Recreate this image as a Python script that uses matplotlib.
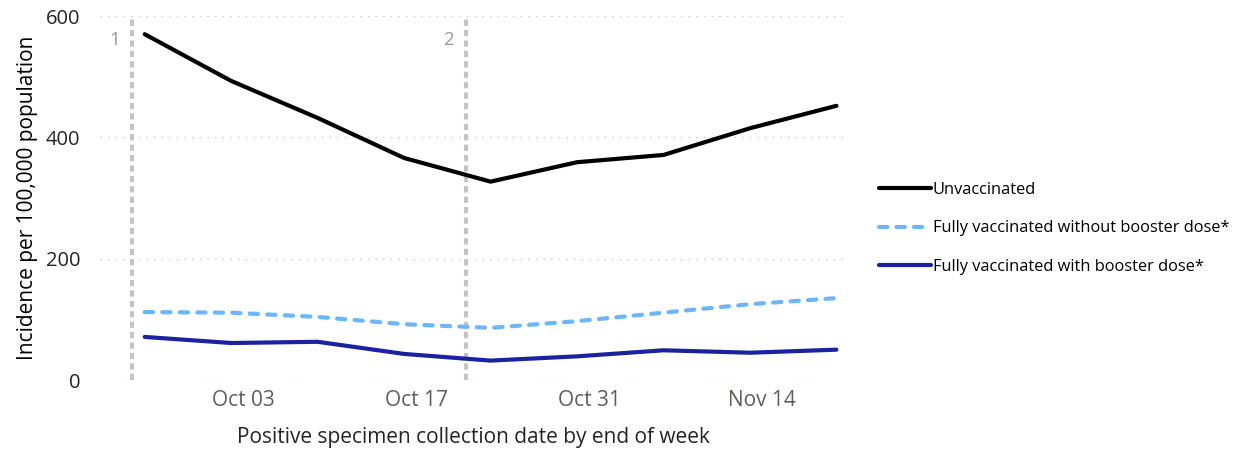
import datetime as dt
import matplotlib
matplotlib.use("Agg")
import matplotlib.pyplot as plt
import matplotlib.dates as mdates

plt.rcParams['font.family'] = ['Open Sans', 'DejaVu Sans']

week_end = ["2021-09-25", "2021-10-02", "2021-10-09", "2021-10-16", "2021-10-23",
            "2021-10-30", "2021-11-06", "2021-11-13", "2021-11-20"]
unvaccinated = [570, 493, 432, 366, 327, 359, 371, 415, 452]
no_booster = [112, 111, 104, 92, 86, 97, 111, 125, 135]
with_booster = [71, 61, 63, 43, 32, 39, 49, 45, 50]
series_labels = ["Unvaccinated",
                 "Fully vaccinated without booster dose*",
                 "Fully vaccinated with booster dose*"]
marker_dates = ["2021-09-24", "2021-10-21"]
marker_labels = ["1", "2"]
tick_dates = ["2021-10-03", "2021-10-17", "2021-10-31", "2021-11-14"]
y_ticks = [0, 200, 400, 600]

to_date = lambda s: dt.datetime.strptime(s, "%Y-%m-%d")
x = [to_date(d) for d in week_end]

fig = plt.figure(figsize=(12.34, 4.51), dpi=100)
ax = fig.add_axes([0.081, 0.1574, 0.606, 0.8071])

for y in y_ticks:
    ax.axhline(y, color="#c8c8c8", lw=1.0, ls=(0, (1, 4.5)), zorder=0)

for d, lab in zip(marker_dates, marker_labels):
    xd = to_date(d)
    ax.axvline(xd, color="#c4c4c4", lw=3.0, ls=(0, (1.5, 1.0)), zorder=1)
    ax.text(xd - dt.timedelta(days=1.0), 560, lab, ha="right", va="center",
            color="#999999", fontsize=13.5)

ax.plot(x, unvaccinated, color="#000000", lw=3.0, label=series_labels[0],
        solid_capstyle="round", solid_joinstyle="round", zorder=3)
ax.plot(x, no_booster, color="#6cb6ff", lw=3.0, ls=(0, (2.0, 2.2)),
        dash_capstyle="round", label=series_labels[1], zorder=3)
ax.plot(x, with_booster, color="#1a22a0", lw=3.0, label=series_labels[2],
        solid_capstyle="round", solid_joinstyle="round", zorder=3)

ax.set_xlim(to_date("2021-09-21") + dt.timedelta(hours=9),
            to_date("2021-11-20") + dt.timedelta(hours=22))
ax.set_ylim(0, 600)
ax.set_xticks([to_date(d) for d in tick_dates])
ax.xaxis.set_major_formatter(mdates.DateFormatter("%b %d"))
ax.set_yticks(y_ticks)
ax.tick_params(axis="both", length=0)
ax.tick_params(axis="x", labelsize=15, labelcolor="#605e5c", pad=7)
ax.tick_params(axis="y", labelsize=14.5, labelcolor="#252423", pad=14)
for s in ax.spines.values():
    s.set_visible(False)

ax.set_xlabel("Positive specimen collection date by end of week",
              fontsize=15, color="#252423", labelpad=12)
ax.set_ylabel("Incidence per 100,000 population", fontsize=15,
              color="#000000", labelpad=6)

leg = fig.legend(loc="upper left", bbox_to_anchor=(0.7, 0.63),
                 frameon=False, fontsize=11.8, handlelength=3.2,
                 handletextpad=0.12, labelspacing=1.38)

fig.savefig("out.png", dpi=100)
